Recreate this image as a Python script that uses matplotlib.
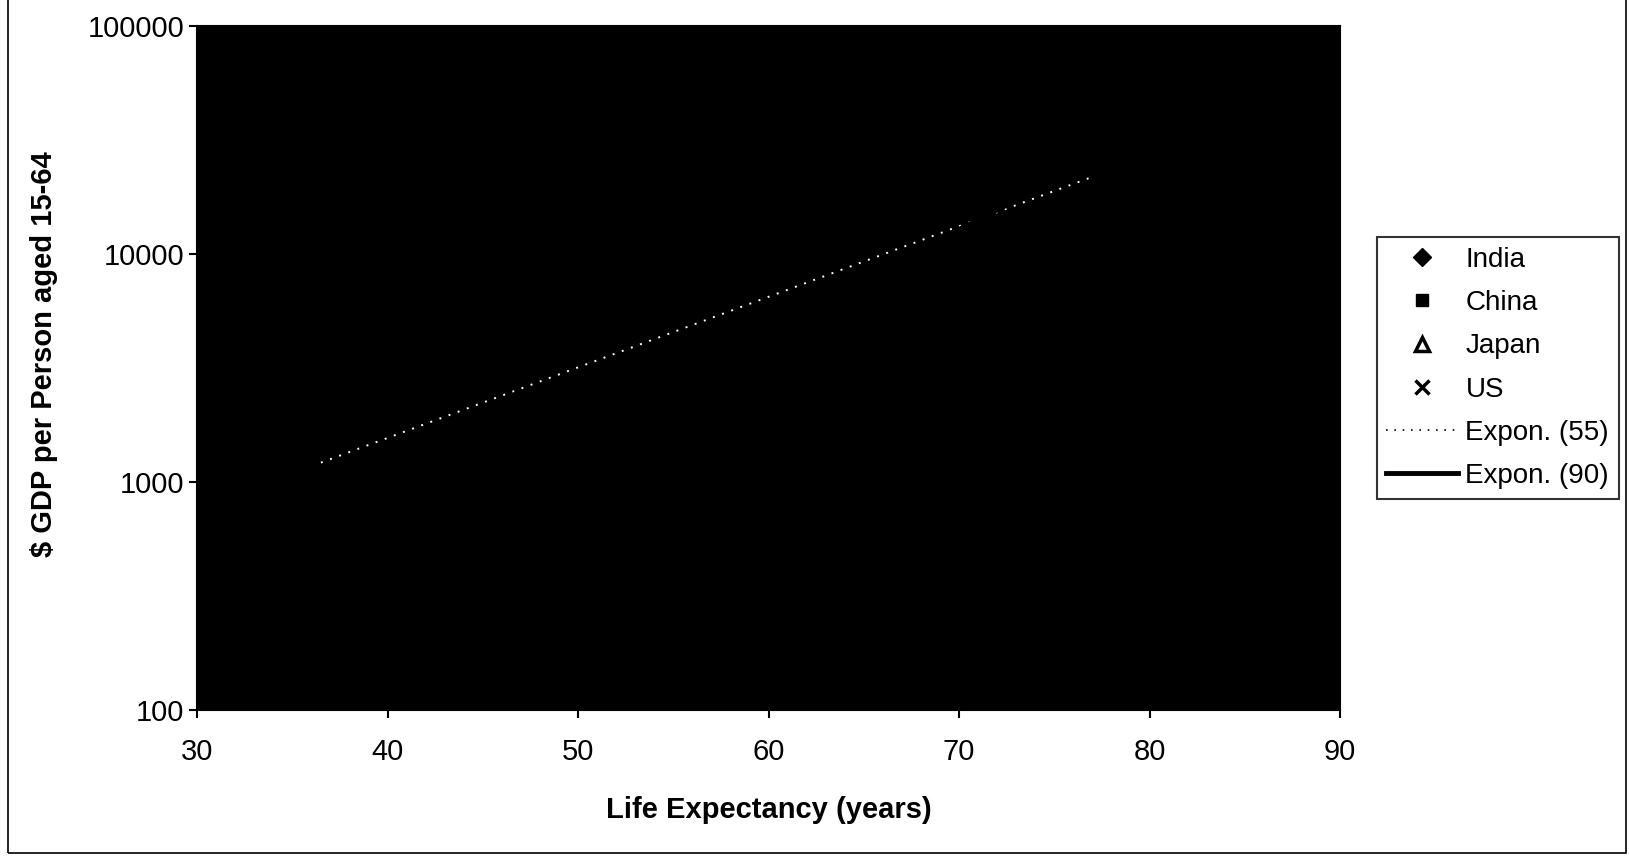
import matplotlib.pyplot as plt
from matplotlib.lines import Line2D
from matplotlib.patches import Rectangle
from matplotlib.ticker import FixedLocator, FuncFormatter, NullLocator

plt.rcParams["font.family"] = ["Liberation Sans", "DejaVu Sans"]

# life expectancy (years) vs $ GDP per person aged 15-64
india_x = [36.6, 38.7, 40.8, 44.5, 51.8, 54.8, 62.8]
india_y = [1225, 1430, 1590, 2030, 1575, 2090, 2290]
china_x = [39.4, 47.5, 50.1, 54.9, 63.9, 67.1, 70.9]
china_y = [1530, 2510, 2890, 3950, 4460, 3430, 990]
japan_x = [48.4, 60.2, 64.1, 66.8, 69.0, 71.2]
japan_y = [2610, 5510, 7010, 6100, 9420, 13400]
us_x = [75.3, 76.8]
us_y = [19100, 21800]

# exponential trend lines (straight on the log axis)
trend55_x = [36.5, 77.0]
trend55_y = [1216, 21800]
trend90_x = [60.0, 82.0]
trend90_y = [5000, 40000]

y_ticks = [100, 1000, 10000, 100000]
x_ticks = [30, 40, 50, 60, 70, 80, 90]

fig = plt.figure(figsize=(16.29, 8.56), dpi=100)
ax = fig.add_axes([0.121, 0.1706, 0.7016, 0.799])
ax.set_facecolor("black")

ax.plot(india_x, india_y, ls="none", marker="D", ms=9, color="black")
ax.plot(china_x, china_y, ls="none", marker="s", ms=9, color="black")
ax.plot(japan_x, japan_y, ls="none", marker="^", ms=9, color="black")
ax.plot(us_x, us_y, ls="none", marker="x", ms=9, mew=2.5, color="black")
ax.plot(trend55_x, trend55_y, color="white", lw=1.4, ls=(0, (1, 4)))
ax.plot(trend90_x, trend90_y, color="black", lw=3)

ax.set_yscale("log")
ax.set_xlim(30, 90)
ax.set_ylim(100, 100000)
ax.yaxis.set_major_locator(FixedLocator(y_ticks))
ax.yaxis.set_minor_locator(NullLocator())
ax.yaxis.set_major_formatter(FuncFormatter(lambda v, p: f"{int(v)}"))
ax.set_xticks(x_ticks)
ax.tick_params(labelsize=21, length=6, width=1.5, direction="out", pad=3)
ax.tick_params(axis="x", pad=14)
for s in ax.spines.values():
    s.set_linewidth(1.5)

ax.set_xlabel("Life Expectancy (years)", fontsize=21, fontweight="bold", labelpad=22)
ax.set_ylabel("\\$ GDP per Person aged 15-64", fontsize=21, fontweight="bold")
ax.yaxis.set_label_coords(-0.122, 0.52)

handles = [
    Line2D([], [], ls="none", marker="D", ms=9, color="black"),
    Line2D([], [], ls="none", marker="s", ms=9, color="black"),
    Line2D([], [], ls="none", marker="^", ms=10, mfc="white", mec="black", mew=2.5),
    Line2D([], [], ls="none", marker="x", ms=10, mew=2.5, color="black"),
    Line2D([], [], color="black", lw=1.2, ls=(0, (1, 4))),
    Line2D([], [], color="black", lw=3.5),
]
labels = ["India", "China", "Japan", "US", "Expon. (55)", "Expon. (90)"]
leg = fig.legend(handles, labels, loc="upper left", bbox_to_anchor=(0.845, 0.723),
                 fontsize=20, frameon=True, fancybox=False, edgecolor="black",
                 handlelength=2.6, handletextpad=0.25, labelspacing=0.62,
                 borderpad=0.35, borderaxespad=0)
leg.get_frame().set_linewidth(1.5)

# outer chart border from the scan
fig.add_artist(Rectangle((0.005, 0.003), 0.993, 1.2, transform=fig.transFigure,
                         fill=False, edgecolor="black", lw=1.2))

fig.savefig("out.png", dpi=100)
